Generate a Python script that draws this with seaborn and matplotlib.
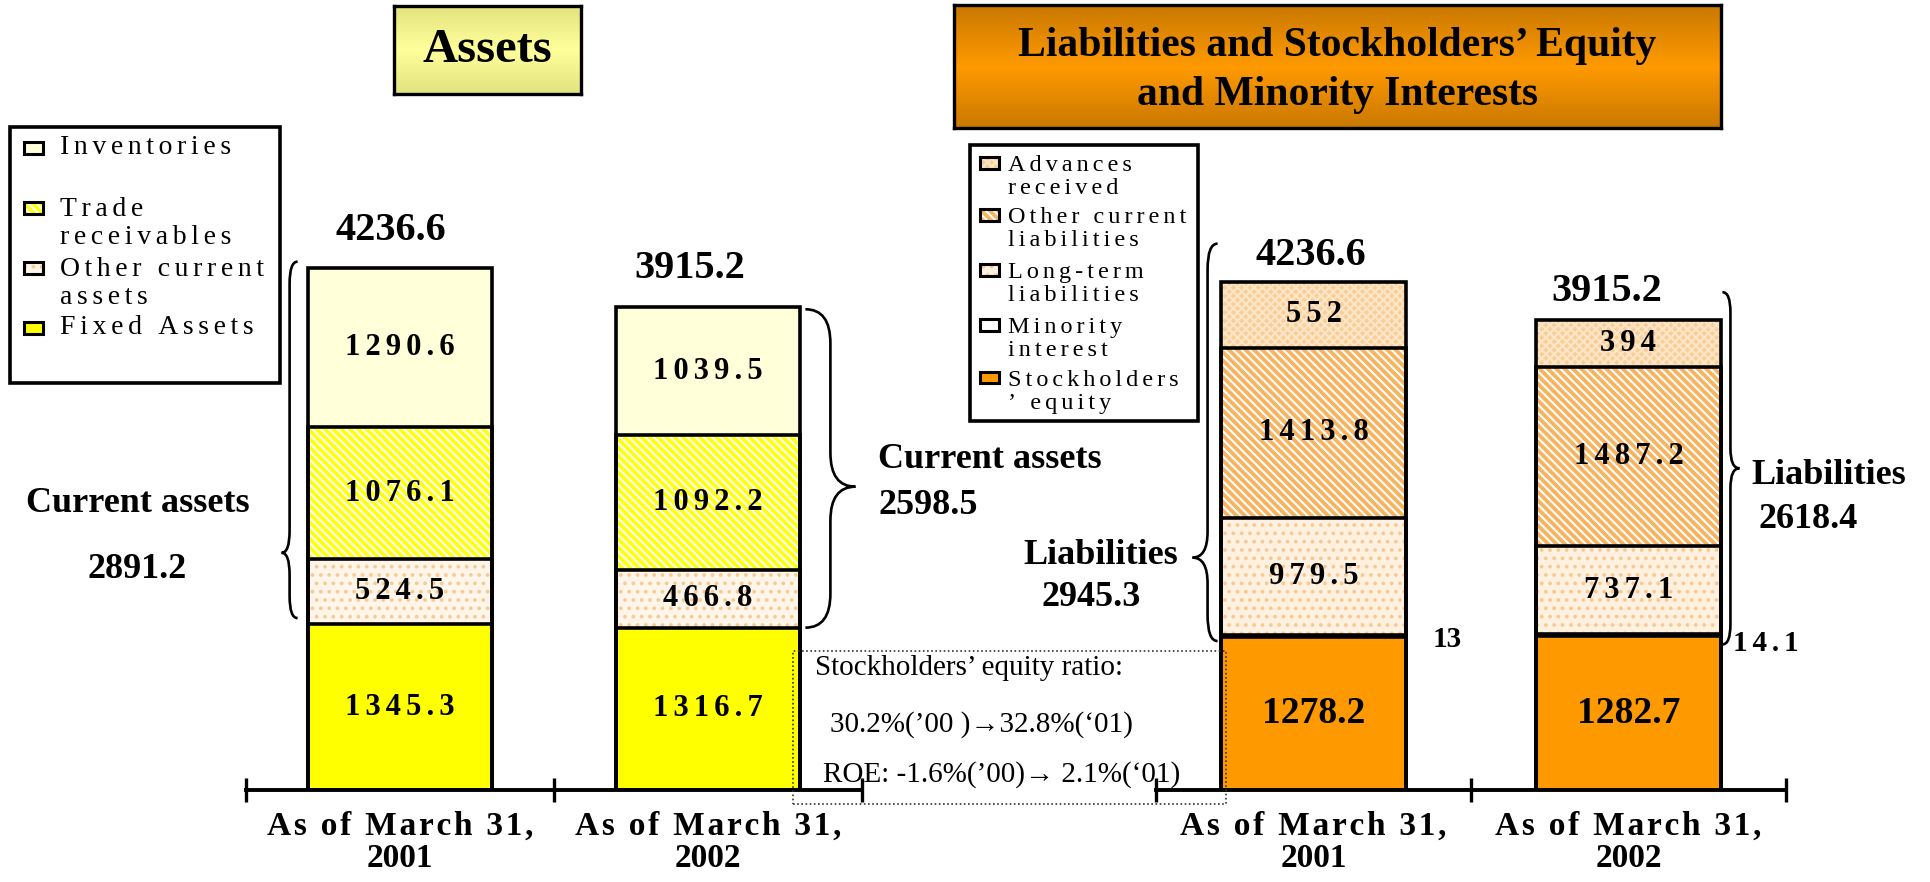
import numpy as np
import matplotlib
matplotlib.use("Agg")
import matplotlib.pyplot as plt
import seaborn as sns
from matplotlib.patches import Rectangle, PathPatch
from matplotlib.path import Path
from matplotlib.colors import LinearSegmentedColormap

# -- data (million yen)
dates = ["As of March 31,\n2001", "As of March 31,\n2002"]

fixed_assets = [1345.3, 1316.7]
other_current_assets = [524.5, 466.8]
trade_receivables = [1076.1, 1092.2]
inventories = [1290.6, 1039.5]
asset_totals = [4236.6, 3915.2]
current_assets = [2891.2, 2598.5]

stockholders_equity = [1278.2, 1282.7]
minority_interest = [13, 14.1]
long_term_liabilities = [979.5, 737.1]
other_current_liabilities = [1413.8, 1487.2]
advances_received = [552, 394]
liab_totals = [4236.6, 3915.2]
liabilities = [2945.3, 2618.4]

asset_legend = ["Inventories", "Trade\nreceivables", "Other current\nassets", "Fixed Assets"]
liab_legend = ["Advances\nreceived", "Other current\nliabilities", "Long-term\nliabilities",
               "Minority\ninterest", "Stockholders\n\u2019 equity"]

box_lines = ["Stockholders\u2019 equity ratio:",
             "30.2%(\u201900 )\u219232.8%(\u201801)",
             "ROE: -1.6%(\u201900)\u2192 2.1%(\u201801)"]

# -- style: face colour, hatch, hatch colour
STYLE = {
    "Fixed Assets": ("#FFFF00", None, None),
    "Other current assets": ("#FFF5E9", "..", "#F5CC98"),
    "Trade receivables": ("#FFFF10", "\\\\\\\\", "#FFFFFF"),
    "Inventories": ("#FFFFD9", None, None),
    "Stockholders' equity": ("#FF9900", None, None),
    "Minority interest": ("#FFFFFF", None, None),
    "Long-term liabilities": ("#FFF1DF", "..", "#F8C995"),
    "Other current liabilities": ("#F7B460", "\\\\\\\\", "#FFFFFF"),
    "Advances received": ("#F9CF99", "xxxx", "#FDE6C8"),
}

W, H = 1930, 882
sns.set_style("white")
plt.rcParams["font.family"] = ["Liberation Serif", "DejaVu Serif"]
plt.rcParams["hatch.linewidth"] = 1.5
plt.rcParams["text.color"] = "black"
plt.rcParams["xtick.color"] = "black"

fig = plt.figure(figsize=(W / 100, H / 100), dpi=100)


def fx(px):
    return px / W


def fy(py):
    return 1 - py / H


def tracked(s, gap="\u2006"):
    return "\n".join(gap.join(list(line)) for line in s.split("\n"))


def ftext(px, py, s, **kw):
    kw.setdefault("ha", "center")
    kw.setdefault("va", "center")
    fig.text(fx(px), fy(py), s, **kw)


def draw_stack(ax, layers, width):
    cum = np.cumsum([v for _, v in layers], axis=0)
    bars = {}
    for i in range(len(layers) - 1, -1, -1):
        name = layers[i][0]
        face, hatch, hcol = STYLE[name]
        n0 = len(ax.patches)
        sns.barplot(x=dates, y=cum[i], color=face, saturation=1, width=width,
                    errorbar=None, linewidth=0, ax=ax)
        new = list(ax.patches[n0:])
        for p in new:
            p.set_facecolor(face)
            if hatch:
                p.set_hatch(hatch)
                p.set_edgecolor(hcol)
            p.set_linewidth(0)
        bars[name] = new
    for name, _ in layers:
        for p in bars[name]:
            ax.add_patch(Rectangle((p.get_x(), 0), p.get_width(), p.get_height(),
                                   fill=False, ec="black", lw=2.6, zorder=3))
    return cum, bars


def style_axis(ax):
    ax.set_xlim(-0.5, 1.5)
    ax.set_ylim(0, 5000)
    ax.set_yticks([])
    for s in ["top", "left", "right"]:
        ax.spines[s].set_visible(False)
    ax.spines["bottom"].set_linewidth(2.8)
    ax.spines["bottom"].set_color("black")
    ax.patch.set_visible(False)
    ax.set_xticks([-0.5, 0.5, 1.5])
    ax.set_xticklabels(["", "", ""])
    ax.set_xticks([0, 1], minor=True)
    labels = []
    for d in dates:
        first, second = d.split("\n")
        labels.append(tracked(first, "\u200a") + "\n" + second)
    ax.set_xticklabels(labels, minor=True, fontsize=24, fontweight="bold", linespacing=1.05)
    ax.tick_params(axis="x", which="major", bottom=True, direction="inout", length=17,
                   width=2.4, color="black")
    ax.tick_params(axis="x", which="minor", bottom=True, length=0, pad=15)
    ax.set_xlabel("")
    ax.set_ylabel("")


def to_px(ax, x, y):
    X, Y = ax.transData.transform((x, y))
    return X, H - Y


def brace(x_end, x_stem, x_tip, y_top, y_bot, y_tip, r):
    verts = [(x_end, y_top), (x_stem, y_top), (x_stem, y_top + r),
             (x_stem, y_tip - r), (x_stem, y_tip), (x_tip, y_tip),
             (x_stem, y_tip), (x_stem, y_tip + r),
             (x_stem, y_bot - r), (x_stem, y_bot), (x_end, y_bot)]
    codes = [Path.MOVETO, Path.CURVE3, Path.CURVE3, Path.LINETO, Path.CURVE3, Path.CURVE3,
             Path.CURVE3, Path.CURVE3, Path.LINETO, Path.CURVE3, Path.CURVE3]
    verts = [(fx(a), fy(b)) for a, b in verts]
    fig.add_artist(PathPatch(Path(verts, codes), transform=fig.transFigure,
                             fill=False, lw=1.9, ec="black", zorder=4))


def title_box(x0, y0, x1, y1, c_edge, c_mid, lines, size, ys):
    tax = fig.add_axes([fx(x0), fy(y1), (x1 - x0) / W, (y1 - y0) / H])
    cmap = LinearSegmentedColormap.from_list("grad", [c_edge, c_mid, c_edge])
    tax.imshow(np.linspace(0, 1, 200).reshape(-1, 1), aspect="auto", cmap=cmap,
               extent=[0, 1, 0, 1])
    tax.set_xticks([])
    tax.set_yticks([])
    for s in tax.spines.values():
        s.set_linewidth(2.4)
        s.set_color("black")
    for line, yy in zip(lines, ys):
        ftext((x0 + x1) / 2, yy, line, fontsize=size, fontweight="bold")


def legend_box(x0, y0, x1, y1, names, labels, ys, mx, tx, size):
    fig.add_artist(Rectangle((fx(x0), fy(y1)), (x1 - x0) / W, (y1 - y0) / H,
                             transform=fig.transFigure, fill=False, ec="black", lw=2.6, zorder=4))
    for name, lab, yy in zip(names, labels, ys):
        face, hatch, hcol = STYLE[name]
        mw, mh = 19, 11
        fig.add_artist(Rectangle((fx(mx), fy(yy + mh / 2)), mw / W, mh / H, transform=fig.transFigure,
                                 facecolor=face, hatch=hatch, edgecolor=hcol if hatch else face,
                                 lw=0, zorder=4))
        fig.add_artist(Rectangle((fx(mx), fy(yy + mh / 2)), mw / W, mh / H, transform=fig.transFigure,
                                 fill=False, ec="black", lw=2.2, zorder=5))
        n = lab.count("\n") + 1
        pitch = size * 1.389 * 1.12
        ftext(tx, yy + (n - 1) * pitch / 2, tracked(lab), fontsize=size, ha="left",
              linespacing=1.12)


# -- Assets panel
ax_a = fig.add_axes([fx(246), fy(790), 616 / W, 5000 * 0.1233 / H])
asset_layers = [("Fixed Assets", fixed_assets), ("Other current assets", other_current_assets),
                ("Trade receivables", trade_receivables), ("Inventories", inventories)]
cum_a, bars_a = draw_stack(ax_a, asset_layers, 0.6)
style_axis(ax_a)

for i, (name, vals) in enumerate(asset_layers):
    for j, p in enumerate(bars_a[name]):
        cx = p.get_x() + p.get_width() / 2
        ax_a.text(cx, cum_a[i][j] - vals[j] / 2, tracked(f"{vals[j]:g}"), ha="center", va="center",
                  fontsize=22, fontweight="bold", zorder=6)

for j, (dx, dy) in enumerate([(-9, 37), (-18, 39)]):
    p = bars_a["Inventories"][j]
    ax_a.annotate(f"{asset_totals[j]:g}", (p.get_x() + p.get_width() / 2, asset_totals[j]),
                  xytext=(dx, dy), textcoords="offset pixels", ha="center", va="center",
                  fontsize=29, fontweight="bold", annotation_clip=False)

# -- Liabilities panel
ax_l = fig.add_axes([fx(1156), fy(790), 630 / W, 5000 * 0.1200 / H])
liab_layers = [("Stockholders' equity", stockholders_equity), ("Minority interest", minority_interest),
               ("Long-term liabilities", long_term_liabilities),
               ("Other current liabilities", other_current_liabilities),
               ("Advances received", advances_received)]
cum_l, bars_l = draw_stack(ax_l, liab_layers, 0.59)
style_axis(ax_l)

for i, (name, vals) in enumerate(liab_layers):
    if name == "Minority interest":
        continue
    for j, p in enumerate(bars_l[name]):
        cx = p.get_x() + p.get_width() / 2
        if name == "Stockholders' equity":
            lab, fs = f"{vals[j]:g}", 27
        else:
            lab, fs = tracked(f"{vals[j]:g}"), 22
        ax_l.text(cx, cum_l[i][j] - vals[j] / 2, lab, ha="center", va="center",
                  fontsize=fs, fontweight="bold", zorder=6)

for j, (dx, dy) in enumerate([(-3, 26), (-22, 29)]):
    p = bars_l["Advances received"][j]
    ax_l.annotate(f"{liab_totals[j]:g}", (p.get_x() + p.get_width() / 2, liab_totals[j]),
                  xytext=(dx, dy), textcoords="offset pixels", ha="center", va="center",
                  fontsize=29, fontweight="bold", annotation_clip=False)

for j, (dx, dy) in enumerate([(26, -4), (12, -9)]):
    p = bars_l["Minority interest"][j]
    lab = f"{minority_interest[j]:g}"
    ax_l.annotate(lab if j == 0 else tracked(lab), (p.get_x() + p.get_width(), cum_l[1][j]),
                  xytext=(dx, dy), textcoords="offset pixels", ha="left", va="center",
                  fontsize=21, fontweight="bold", annotation_clip=False)

# -- braces and group labels
p1 = bars_a["Fixed Assets"][0]
xl, yb = to_px(ax_a, p1.get_x(), fixed_assets[0])
_, yt = to_px(ax_a, p1.get_x(), asset_totals[0])
brace(xl - 10, xl - 18, xl - 26, yt - 6, yb - 6, yb - 0.2 * (yb - yt), 22)
ftext(138, 503, "Current assets", fontsize=26, fontweight="bold")
ftext(137, 570, f"{current_assets[0]:g}", fontsize=26, fontweight="bold")

p2 = bars_a["Fixed Assets"][1]
xr, yb = to_px(ax_a, p2.get_x() + p2.get_width(), fixed_assets[1])
_, yt = to_px(ax_a, p2.get_x(), asset_totals[1])
brace(xr + 5, xr + 30, xr + 55, yt + 2, yb, yb - 0.44 * (yb - yt), 34)
ftext(878, 460, "Current assets", fontsize=26, fontweight="bold", ha="left")
ftext(878, 505, f"{current_assets[1]:g}", fontsize=26, fontweight="bold", ha="left")

p3 = bars_l["Minority interest"][0]
xl, yb = to_px(ax_l, p3.get_x(), cum_l[1][0])
_, yt = to_px(ax_l, p3.get_x(), liab_totals[0])
brace(xl - 3, xl - 13, xl - 28, yt - 38, yb + 6, yb + 6 - 0.21 * (yb - yt + 44), 26)
ftext(1101, 555, "Liabilities", fontsize=26, fontweight="bold")
ftext(1091, 597, f"{liabilities[0]:g}", fontsize=26, fontweight="bold")

p4 = bars_l["Minority interest"][1]
xr, yb = to_px(ax_l, p4.get_x() + p4.get_width(), cum_l[1][1])
_, yt = to_px(ax_l, p4.get_x(), liab_totals[1])
brace(xr + 1, xr + 9, xr + 18, yt - 28, yb + 10, yb + 10 - 0.5 * (yb - yt + 38), 20)
ftext(1751, 475, "Liabilities", fontsize=26, fontweight="bold", ha="left")
ftext(1759, 520, f"{liabilities[1]:g}", fontsize=26, fontweight="bold", ha="left")

# -- title boxes
title_box(394, 6, 581, 94, "#E2E27E", "#FFFF9C", ["Assets"], 35, [50])
title_box(954, 5, 1721, 128, "#C97800", "#FF9A00",
          ["Liabilities and Stockholders\u2019 Equity", "and Minority Interests"], 30, [46, 95])

# -- legends
legend_box(10, 127, 280, 383,
           ["Inventories", "Trade receivables", "Other current assets", "Fixed Assets"],
           asset_legend, [148, 208, 268, 328], 24, 60, 20)
legend_box(970, 145, 1198, 421,
           ["Advances received", "Other current liabilities", "Long-term liabilities",
            "Minority interest", "Stockholders' equity"],
           liab_legend, [163, 215, 270, 325, 378], 980, 1008, 17.5)

# -- ratio note
fig.add_artist(Rectangle((fx(793), fy(804)), 433 / W, 153 / H, transform=fig.transFigure,
                         fill=False, ec="#333333", lw=1.2, ls=(0, (1, 1.5)), zorder=7))
for (px, py), line in zip([(815, 668), (830, 725), (823, 775)], box_lines):
    ftext(px, py, line, fontsize=21, ha="left", zorder=7)

fig.savefig("out.png", dpi=100)
